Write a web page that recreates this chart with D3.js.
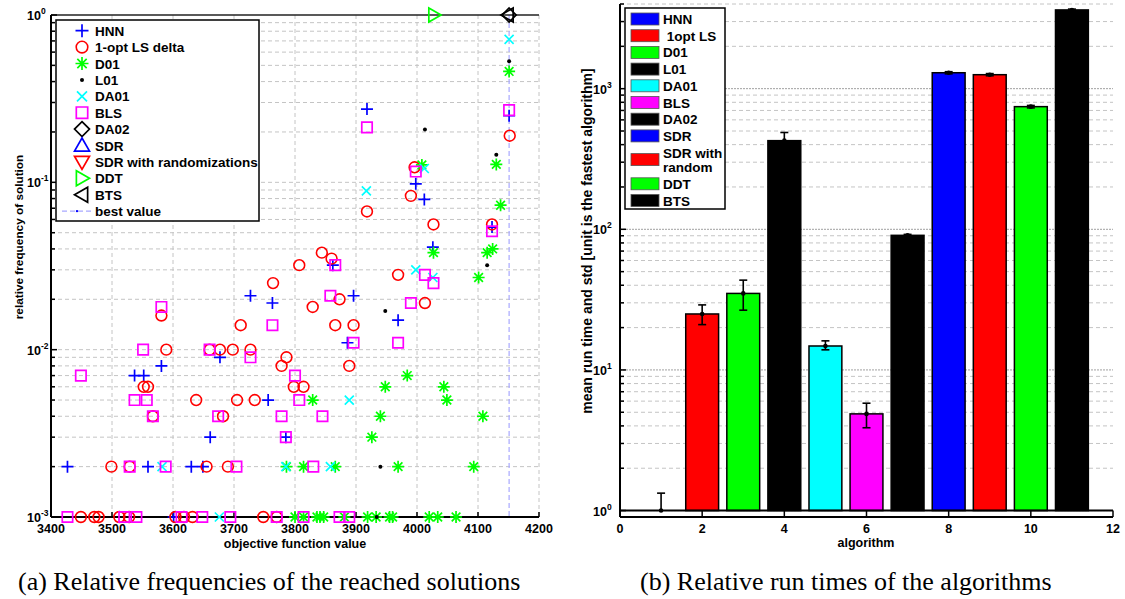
<!DOCTYPE html>
<html><head><meta charset="utf-8">
<script src="https://cdn.jsdelivr.net/npm/d3@7"></script>
<style>
body{margin:0;background:#fff;}
svg{display:block;}
text{font-family:"Liberation Sans",Arial,sans-serif;font-weight:bold;fill:#000;}
</style></head><body>
<svg id="c" width="1125" height="599"></svg>
<script>
// ---------------- DATA: (a) relative frequencies ----------------
const xTicksA = [3400,3500,3600,3700,3800,3900,4000,4100,4200];
const yTicksA = [1e-3,1e-2,1e-1,1];
const yTickExpA = ["-3","-2","-1","0"];
const bestValue = 4151;

const hnnX = [3601,3427,3559,3630,3649,3661,3785,3756,3537,3552,3581,3677,3886,3969,3763,3727,3896,3862,4026,4123,4012,3998,4151,3918];
const hnnY = [0.001,0.002,0.002,0.002,0.002,0.003,0.003,0.005,0.007,0.007,0.008,0.009,0.011,0.015,0.019,0.021,0.021,0.032,0.041,0.054,0.079,0.098,0.25,0.274];

const optX = [3449,3471,3478,3512,3528,3604,3618,3632,3748,3770,3499,3529,3655,3690,3567,3682,3638,3705,3734,3552,3559,3798,3814,3778,3889,3786,3589,3660,3677,3698,3727,3711,3866,3896,3581,3829,4013,3873,3764,3969,3807,3860,3844,4027,4123,3918,3990,3996,4152];
const optY = [0.001,0.001,0.001,0.001,0.001,0.001,0.001,0.001,0.001,0.001,0.002,0.002,0.002,0.002,0.004,0.004,0.005,0.005,0.005,0.006,0.006,0.006,0.006,0.008,0.008,0.009,0.010,0.010,0.010,0.010,0.010,0.014,0.014,0.014,0.016,0.018,0.019,0.020,0.025,0.028,0.032,0.035,0.038,0.056,0.056,0.067,0.083,0.123,0.19];

const d01X = [3800,3814,3836,3841,3847,3881,3919,3933,3955,3960,4020,4034,4064,3786,3814,3866,3969,4093,3926,3940,4108,3829,4049,3948,4044,3984,4101,4027,4115,4124,4137,4008,4130,4151];
const d01Y = [0.001,0.001,0.001,0.001,0.001,0.001,0.001,0.001,0.001,0.001,0.001,0.001,0.001,0.002,0.002,0.002,0.002,0.002,0.003,0.004,0.004,0.005,0.005,0.006,0.006,0.007,0.027,0.038,0.038,0.040,0.073,0.127,0.128,0.46];

const l01X = [3934,3940,3948,4115,4130,4013,4151];
const l01Y = [0.001,0.002,0.017,0.032,0.146,0.207,0.53];

const da01X = [3676,3582,3785,3858,3889,4026,3998,3917,4012,4151];
const da01Y = [0.001,0.002,0.002,0.002,0.005,0.027,0.030,0.089,0.121,0.716];

const blsX = [3427,3520,3540,3614,3648,3694,3770,3814,3873,3889,3529,3588,3704,3830,3785,3567,3674,3778,3845,3537,3557,3807,3449,3800,3727,3551,3660,3896,3969,3763,3581,3990,3858,4027,4013,3866,4123,3998,3918,4151];
const blsY = [0.001,0.001,0.001,0.001,0.001,0.001,0.001,0.001,0.001,0.001,0.002,0.002,0.002,0.002,0.003,0.004,0.004,0.004,0.004,0.005,0.005,0.005,0.007,0.007,0.009,0.010,0.010,0.011,0.011,0.014,0.018,0.019,0.021,0.025,0.028,0.032,0.051,0.116,0.213,0.27];

const da02X = [4151], da02Y = [1];
const sdrX = [], sdrY = [];
const sdrRX = [], sdrRY = [];
const ddtX = [4028], ddtY = [1];
const btsX = [4149], btsY = [1];

const seriesNamesA = ["HNN","1-opt LS delta","D01","L01","DA01","BLS","DA02","SDR","SDR with randomizations","DDT","BTS","best value"];

// ---------------- DATA: (b) run times ----------------
const algos = [1,2,3,4,5,6,7,8,9,10,11];
const algoNames = ["HNN"," 1opt LS","D01","L01","DA01","BLS","DA02","SDR","SDR with\nrandom","DDT","BTS"];
const meanTime = [1,25,35,427,14.8,4.87,90.6,1298,1257,745,3630];
const errHigh = [1.33,29,43.5,488,16.1,5.8,92,1320,1280,760,3680];
const errLow  = [1,21,26.6,370,13.9,3.88,89,1275,1235,730,3580];
const xTicksB = [0,2,4,6,8,10,12];
const yTicksB = [1,10,100,1000];
const yTickExpB = ["0","1","2","3"];

// ---------------- STYLES ----------------
const BLUE="#0000ff",RED="#ff0000",GREEN="#00ff00",CYAN="#00ffff",MAG="#ff00ff",BLK="#000000";
const barColors = [BLUE,RED,GREEN,BLK,CYAN,MAG,BLK,BLUE,RED,GREEN,BLK];
const GRID="#c4c4c4";

const svg = d3.select("#c");

// marker path generators
const mk = {
  plus: s=>`M${-s},0H${s}M0,${-s}V${s}`,
  x: s=>`M${-s},${-s}L${s},${s}M${-s},${s}L${s},${-s}`,
  star: s=>{const d=s*0.72;return `M${-s},0H${s}M0,${-s}V${s}M${-d},${-d}L${d},${d}M${-d},${d}L${d},${-d}`;},
  square: s=>`M${-s},${-s}H${s}V${s}H${-s}Z`,
  diamond: s=>`M0,${-s}L${s},0L0,${s}L${-s},0Z`,
  triUp: s=>`M0,${-s}L${s},${s*0.75}L${-s},${s*0.75}Z`,
  triDown: s=>`M0,${s}L${s},${-s*0.75}L${-s},${-s*0.75}Z`,
  triRight: s=>`M${s},0L${-s*0.75},${-s}L${-s*0.75},${s}Z`,
  triLeft: s=>`M${-s},0L${s*0.75},${-s}L${s*0.75},${s}Z`
};

const seriesA = [
  {name:seriesNamesA[0], xs:hnnX, ys:hnnY, type:"plus", size:6, color:BLUE},
  {name:seriesNamesA[1], xs:optX, ys:optY, type:"circle", size:5.4, color:RED},
  {name:seriesNamesA[2], xs:d01X, ys:d01Y, type:"star", size:6, color:GREEN},
  {name:seriesNamesA[3], xs:l01X, ys:l01Y, type:"dot", size:2, color:BLK},
  {name:seriesNamesA[4], xs:da01X, ys:da01Y, type:"x", size:4.5, color:CYAN},
  {name:seriesNamesA[5], xs:blsX, ys:blsY, type:"square", size:5.2, color:MAG},
  {name:seriesNamesA[6], xs:da02X, ys:da02Y, type:"diamond", size:7, color:BLK},
  {name:seriesNamesA[7], xs:sdrX, ys:sdrY, type:"triUp", size:7, color:BLUE},
  {name:seriesNamesA[8], xs:sdrRX, ys:sdrRY, type:"triDown", size:7, color:RED},
  {name:seriesNamesA[9], xs:ddtX, ys:ddtY, type:"triRight", size:7, color:GREEN},
  {name:seriesNamesA[10], xs:btsX, ys:btsY, type:"triLeft", size:7, color:BLK}
];

function drawMarker(g, type, size, color, x, y){
  if(type==="circle"){
    g.append("circle").attr("cx",x).attr("cy",y).attr("r",size).attr("fill","none").attr("stroke",color).attr("stroke-width",1.6);
  } else if(type==="dot"){
    g.append("circle").attr("cx",x).attr("cy",y).attr("r",size).attr("fill",color);
  } else {
    g.append("path").attr("transform",`translate(${x},${y})`).attr("d",mk[type](size))
      .attr("fill","none").attr("stroke",color).attr("stroke-width",1.7).attr("stroke-linejoin","miter");
  }
}

// ================= CHART (a) =================
const xA = d3.scaleLinear().domain([3400,4200]).range([51,539]);
const yA = d3.scaleLog().domain([1e-3,1]).range([517,15]);
const gA = svg.append("g");

const gridYA = [];
for(let e=-3;e<0;e++){for(let k=1;k<10;k++){gridYA.push(k*Math.pow(10,e));}}
gridYA.push(1);
gA.append("g").selectAll("line").data(gridYA.filter(v=>v>1e-3 && v<1)).join("line")
  .attr("x1",xA(3400)).attr("x2",xA(4200)).attr("y1",d=>yA(d)).attr("y2",d=>yA(d))
  .attr("stroke",GRID).attr("stroke-dasharray","4,3").attr("stroke-width",1);
gA.append("g").selectAll("line").data(xTicksA.slice(1)).join("line")
  .attr("x1",d=>xA(d)).attr("x2",d=>xA(d)).attr("y1",yA(1)).attr("y2",yA(1e-3))
  .attr("stroke",GRID).attr("stroke-dasharray","4,3").attr("stroke-width",1);

// best value line
gA.append("line").attr("x1",xA(bestValue)).attr("x2",xA(bestValue)).attr("y1",yA(1)).attr("y2",yA(1e-3))
  .attr("stroke","#a8a8ff").attr("stroke-dasharray","5,3").attr("stroke-width",1.2);

// axes frame
gA.append("line").attr("x1",xA(3400)).attr("x2",xA(4200)).attr("y1",yA(1e-3)).attr("y2",yA(1e-3)).attr("stroke","#000").attr("stroke-width",2);
gA.append("line").attr("x1",xA(3400)).attr("x2",xA(4200)).attr("y1",yA(1)).attr("y2",yA(1)).attr("stroke","#222").attr("stroke-width",1.5);
gA.append("line").attr("x1",xA(3400)).attr("x2",xA(3400)).attr("y1",yA(1)).attr("y2",yA(1e-3)).attr("stroke","#000").attr("stroke-width",2);
gA.append("g").selectAll("line").data(gridYA).join("line")
  .attr("x1",xA(3400)).attr("x2",d=>xA(3400)+(yTicksA.includes(d)?6:4)).attr("y1",d=>yA(d)).attr("y2",d=>yA(d))
  .attr("stroke","#000").attr("stroke-width",1.5);
gA.append("g").selectAll("line").data(xTicksA).join("line")
  .attr("x1",d=>xA(d)).attr("x2",d=>xA(d)).attr("y1",yA(1e-3)).attr("y2",yA(1e-3)-5)
  .attr("stroke","#000").attr("stroke-width",1.5);
gA.append("g").selectAll("text").data(xTicksA).join("text")
  .attr("x",d=>xA(d)).attr("y",533).attr("text-anchor","middle").attr("font-size",12.5).text(d=>d);
yTicksA.forEach((v,i)=>{
  const t = gA.append("text").attr("x",27).attr("y",yA(v)+5).attr("font-size",12.5);
  t.append("tspan").text("10");
  t.append("tspan").attr("dy",-6).attr("font-size",8.5).text(yTickExpA[i]);
});
gA.append("text").attr("x",295).attr("y",548).attr("text-anchor","middle").attr("font-size",12.5).text("objective function value");
gA.append("text").attr("transform","translate(23,237) rotate(-90)").attr("text-anchor","middle").attr("font-size",11.8).text("relative frequency of solution");

seriesA.forEach(s=>{
  const g = gA.append("g");
  s.xs.forEach((xv,i)=>drawMarker(g,s.type,s.size,s.color,xA(xv),yA(s.ys[i])));
});

// legend (a)
const legA = gA.append("g");
legA.append("rect").attr("x",56).attr("y",20).attr("width",203).attr("height",201).attr("fill","#fff").attr("stroke","#000").attr("stroke-width",1.5);
seriesNamesA.forEach((n,i)=>{
  const cy = 30.7 + i*16.4;
  if(i<seriesA.length){
    const s = seriesA[i];
    drawMarker(legA,s.type,s.type==="dot"?2:(s.type==="circle"?5.8:s.size+0.5),s.color,82,cy);
  } else {
    legA.append("line").attr("x1",62).attr("x2",92).attr("y1",cy).attr("y2",cy).attr("stroke","#a8a8ff").attr("stroke-dasharray","5,3").attr("stroke-width",1.2);
    legA.append("circle").attr("cx",77).attr("cy",cy).attr("r",1.2).attr("fill",BLUE);
  }
  legA.append("text").attr("x",95).attr("y",cy+5).attr("font-size",13.5).text(n);
});

// ================= CHART (b) =================
const xB = d3.scaleLinear().domain([0,12]).range([620,1113]);
const yB = d3.scaleLog().domain([0.9,4000]).range([517,4]);
const gB = svg.append("g");
const gridYB = [];
for(let e=0;e<4;e++){for(let k=1;k<10;k++){const v=k*Math.pow(10,e); if(v<=4000) gridYB.push(v);}}
gB.append("g").selectAll("line").data(gridYB).join("line")
  .attr("x1",xB(0)).attr("x2",xB(12)).attr("y1",d=>yB(d)).attr("y2",d=>yB(d))
  .attr("stroke",d=>yTicksB.includes(d)?"#a0a0a0":GRID).attr("stroke-dasharray",d=>yTicksB.includes(d)?"2,1":"4,3").attr("stroke-width",1);

const bw = 0.8;
gB.append("g").selectAll("rect").data(algos).join("rect")
  .attr("x",(d)=>xB(d-bw/2)).attr("width",xB(bw)-xB(0))
  .attr("y",(d,i)=>yB(meanTime[i])).attr("height",(d,i)=>yB(1)-yB(meanTime[i]))
  .attr("fill",(d,i)=>barColors[i]).attr("stroke","#000").attr("stroke-width",1.5);

gB.append("line").attr("x1",xB(0)).attr("x2",xB(12)).attr("y1",yB(1)).attr("y2",yB(1)).attr("stroke","#000").attr("stroke-width",2);
gB.append("line").attr("x1",xB(0)).attr("x2",xB(12)).attr("y1",yB(0.9)).attr("y2",yB(0.9)).attr("stroke","#000").attr("stroke-width",2);
gB.append("line").attr("x1",xB(0)).attr("x2",xB(0)).attr("y1",yB(4000)).attr("y2",yB(0.9)).attr("stroke","#000").attr("stroke-width",2);
gB.append("g").selectAll("line").data(xTicksB).join("line")
  .attr("x1",d=>xB(d)).attr("x2",d=>xB(d)).attr("y1",yB(0.9)).attr("y2",yB(1))
  .attr("stroke","#000").attr("stroke-width",1.5);
gB.append("g").selectAll("line").data(gridYB).join("line")
  .attr("x1",xB(0)).attr("x2",d=>xB(0)+(yTicksB.includes(d)?6:4)).attr("y1",d=>yB(d)).attr("y2",d=>yB(d))
  .attr("stroke","#000").attr("stroke-width",1.5);

const eb = gB.append("g").attr("stroke","#000").attr("stroke-width",1.6);
algos.forEach((a,i)=>{
  const x = xB(a);
  eb.append("line").attr("x1",x).attr("x2",x).attr("y1",yB(errLow[i])).attr("y2",yB(errHigh[i]));
  eb.append("line").attr("x1",x-4).attr("x2",x+4).attr("y1",yB(errHigh[i])).attr("y2",yB(errHigh[i]));
  if(errLow[i]<meanTime[i]) eb.append("line").attr("x1",x-4).attr("x2",x+4).attr("y1",yB(errLow[i])).attr("y2",yB(errLow[i]));
  gB.append("circle").attr("cx",x).attr("cy",yB(meanTime[i])).attr("r",2.3).attr("fill","#000");
});

gB.append("g").selectAll("text").data(xTicksB).join("text")
  .attr("x",d=>xB(d)).attr("y",533).attr("text-anchor","middle").attr("font-size",12.5).text(d=>d);
yTicksB.forEach((v,i)=>{
  const t = gB.append("text").attr("x",593).attr("y",yB(v)+5).attr("font-size",12.5);
  t.append("tspan").text("10");
  t.append("tspan").attr("dy",-6).attr("font-size",8.5).text(yTickExpB[i]);
});
gB.append("text").attr("x",866).attr("y",547).attr("text-anchor","middle").attr("font-size",12.5).text("algorithm");
gB.append("text").attr("transform","translate(592,241) rotate(-90)").attr("text-anchor","middle").attr("font-size",14).text("mean run time and std [unit is the fastest algorithm]");

// legend (b)
const legB = gB.append("g");
legB.append("rect").attr("x",625).attr("y",8).attr("width",100).attr("height",201).attr("fill","#fff").attr("stroke","#000").attr("stroke-width",1.5);
let ly = 19;
algoNames.forEach((n,i)=>{
  const lines = n.split("\n");
  const cy = ly + (lines.length-1)*7;
  legB.append("rect").attr("x",631).attr("y",cy-6).attr("width",28).attr("height",12)
    .attr("fill",barColors[i]).attr("stroke","#555").attr("stroke-width",0.8);
  lines.forEach((ln,j)=>{
    legB.append("text").attr("x",663).attr("y",ly+5+j*14.5).attr("font-size",13.5).style("white-space","pre").text(ln);
  });
  ly += 16.7 + (lines.length-1)*14.5;
});

// captions
svg.append("text").attr("x",18).attr("y",590).style("font-family","'Liberation Serif','Times New Roman',serif").style("font-weight","normal").attr("font-size",26)
  .text("(a) Relative frequencies of the reached solutions");
svg.append("text").attr("x",640).attr("y",590).style("font-family","'Liberation Serif','Times New Roman',serif").style("font-weight","normal").attr("font-size",26)
  .text("(b) Relative run times of the algorithms");
</script>
</body></html>
